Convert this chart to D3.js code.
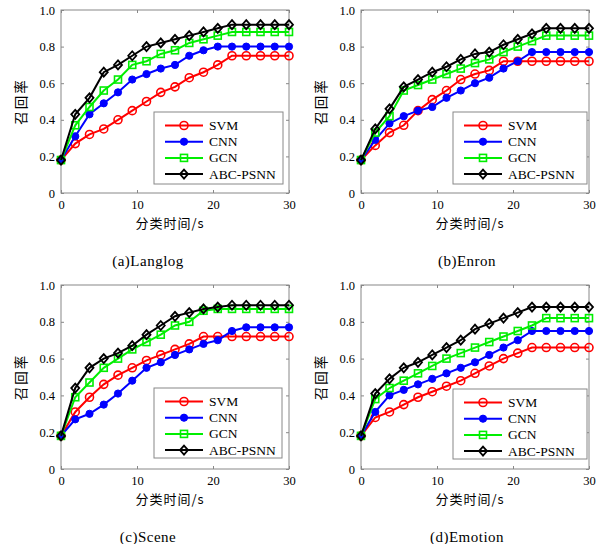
<!DOCTYPE html>
<html><head><meta charset="utf-8">
<script src="https://cdn.jsdelivr.net/npm/d3@7"></script>
<style>body{margin:0;background:#fff}svg{display:block}</style>
</head><body>
<svg id="c" width="603" height="544"></svg>
<script>
const times = [0,1.875,3.75,5.625,7.5,9.375,11.25,13.125,15,16.875,18.75,20.625,22.5,24.375,26.25,28.125,30];
const seriesNames = ["SVM","CNN","GCN","ABC-PSNN"];
const xTicks = [0,10,20,30];
const yTicks = [0,0.2,0.4,0.6,0.8,1.0];
const yTickLabels = ["0","0.2","0.4","0.6","0.8","1.0"];
const captions = ["(a)Langlog","(b)Enron","(c)Scene","(d)Emotion"];

const svmA = [0.18,0.27,0.32,0.35,0.40,0.45,0.50,0.55,0.58,0.63,0.66,0.70,0.75,0.75,0.75,0.75,0.75];
const cnnA = [0.18,0.31,0.43,0.49,0.55,0.62,0.65,0.68,0.70,0.75,0.78,0.80,0.80,0.80,0.80,0.80,0.80];
const gcnA = [0.18,0.37,0.47,0.56,0.62,0.70,0.72,0.76,0.78,0.82,0.84,0.86,0.88,0.88,0.88,0.88,0.88];
const abcA = [0.18,0.43,0.52,0.66,0.70,0.75,0.80,0.82,0.84,0.86,0.88,0.90,0.92,0.92,0.92,0.92,0.92];

const svmB = [0.18,0.26,0.33,0.37,0.45,0.51,0.56,0.62,0.65,0.67,0.72,0.72,0.72,0.72,0.72,0.72,0.72];
const cnnB = [0.18,0.29,0.38,0.42,0.45,0.47,0.52,0.56,0.60,0.63,0.68,0.72,0.77,0.77,0.77,0.77,0.77];
const gcnB = [0.18,0.33,0.42,0.56,0.59,0.62,0.65,0.68,0.71,0.73,0.77,0.80,0.83,0.86,0.86,0.86,0.86];
const abcB = [0.18,0.35,0.46,0.58,0.62,0.66,0.69,0.73,0.76,0.77,0.81,0.84,0.87,0.90,0.90,0.90,0.90];

const svmC = [0.18,0.31,0.39,0.46,0.51,0.55,0.59,0.62,0.65,0.68,0.72,0.72,0.72,0.72,0.72,0.72,0.72];
const cnnC = [0.18,0.27,0.30,0.35,0.41,0.48,0.55,0.58,0.62,0.65,0.68,0.70,0.75,0.77,0.77,0.77,0.77];
const gcnC = [0.18,0.39,0.47,0.55,0.60,0.65,0.69,0.73,0.78,0.80,0.86,0.87,0.87,0.87,0.87,0.87,0.87];
const abcC = [0.18,0.44,0.55,0.60,0.63,0.67,0.73,0.78,0.83,0.85,0.87,0.88,0.89,0.89,0.89,0.89,0.89];

const svmD = [0.18,0.28,0.31,0.35,0.39,0.42,0.45,0.48,0.52,0.56,0.60,0.63,0.66,0.66,0.66,0.66,0.66];
const cnnD = [0.18,0.31,0.40,0.43,0.46,0.49,0.52,0.55,0.58,0.62,0.66,0.70,0.75,0.75,0.75,0.75,0.75];
const gcnD = [0.18,0.38,0.44,0.48,0.52,0.56,0.60,0.63,0.66,0.69,0.72,0.75,0.78,0.82,0.82,0.82,0.82];
const abcD = [0.18,0.41,0.49,0.55,0.58,0.62,0.66,0.70,0.76,0.79,0.82,0.85,0.88,0.88,0.88,0.88,0.88];

const panelData = [[svmA,cnnA,gcnA,abcA],[svmB,cnnB,gcnB,abcB],[svmC,cnnC,gcnC,abcC],[svmD,cnnD,gcnD,abcD]];

// layout
const frames = [
  {l:61,r:289,t:10,b:193, lg:{x:154,y:112,w:129,h:72}, cap:{x:148,y:261}},
  {l:361,r:589,t:10,b:193, lg:{x:453,y:112,w:134,h:72}, cap:{x:467,y:261}},
  {l:61,r:289,t:285,b:469, lg:{x:154,y:388,w:128,h:70}, cap:{x:148,y:537}},
  {l:361,r:589,t:285,b:469, lg:{x:453,y:389,w:134,h:70}, cap:{x:467,y:537}}
];
const colors = ["#ff0000","#0000ff","#00ee00","#000000"];
const svg = d3.select("#c");
const serif = "'Liberation Serif','Times New Roman',serif";
const grey = "#888";

function marker(g, k, cx, cy){
  const c = colors[k];
  if(k===0) g.append("circle").attr("cx",cx).attr("cy",cy).attr("r",4).attr("fill","none").attr("stroke",c).attr("stroke-width",1.6);
  else if(k===1) g.append("circle").attr("cx",cx).attr("cy",cy).attr("r",3.6).attr("fill",c).attr("stroke",c).attr("stroke-width",1);
  else if(k===2) g.append("rect").attr("x",cx-3.5).attr("y",cy-3.5).attr("width",7).attr("height",7).attr("fill","none").attr("stroke",c).attr("stroke-width",1.6);
  else g.append("path").attr("d",`M${cx},${cy-4.5}L${cx+4},${cy}L${cx},${cy+4.5}L${cx-4},${cy}Z`).attr("fill","none").attr("stroke",c).attr("stroke-width",1.8);
}

frames.forEach((f,i)=>{
  const x = d3.scaleLinear().domain([0,30]).range([f.l,f.r]);
  const y = d3.scaleLinear().domain([0,1]).range([f.b,f.t]);
  const g = svg.append("g");
  // frame
  g.append("rect").attr("x",f.l).attr("y",f.t).attr("width",f.r-f.l).attr("height",f.b-f.t)
    .attr("fill","none").attr("stroke",grey).attr("stroke-width",1);
  // axes via d3
  const ax = g.append("g").attr("transform",`translate(0,${f.b})`)
    .call(d3.axisBottom(x).tickValues(xTicks).tickSize(-3).tickPadding(7).tickFormat(d3.format("d")));
  const ay = g.append("g").attr("transform",`translate(${f.l},0)`)
    .call(d3.axisLeft(y).tickValues(yTicks).tickSize(-3).tickPadding(6).tickFormat((d,j)=>yTickLabels[j]));
  const axT = g.append("g").attr("transform",`translate(0,${f.t})`)
    .call(d3.axisTop(x).tickValues(xTicks).tickSize(-3).tickFormat(""));
  const ayR = g.append("g").attr("transform",`translate(${f.r},0)`)
    .call(d3.axisRight(y).tickValues(yTicks).tickSize(-3).tickFormat(""));
  [ax,ay,axT,ayR].forEach(a=>{
    a.select(".domain").remove();
    a.selectAll("line").attr("stroke",grey);
    a.selectAll("text").attr("font-family",serif).attr("font-size",12.5).attr("fill","#000");
  });
  // titles
  g.append("text").attr("x",(f.l+f.r)/2-5).attr("y",f.b+35).attr("text-anchor","middle")
    .attr("font-family","'Noto Sans CJK SC',sans-serif").attr("font-size",13).attr("letter-spacing",1).text("分类时间/s");
  g.append("text").attr("transform",`translate(${f.l-35},${(f.t+f.b)/2}) rotate(-90)`).attr("text-anchor","middle")
    .attr("font-family","'Noto Sans CJK SC',sans-serif").attr("font-size",13.5).attr("letter-spacing",2).text("召回率");
  // lines
  const line = d3.line().x((d,j)=>x(times[j])).y(d=>y(d));
  panelData[i].forEach((s,k)=>{
    g.append("path").attr("d",line(s)).attr("fill","none").attr("stroke",colors[k]).attr("stroke-width",2);
    s.forEach((v,j)=>marker(g,k,x(times[j]),y(v)));
  });
  // legend
  const lg = g.append("g");
  lg.append("rect").attr("x",f.lg.x).attr("y",f.lg.y).attr("width",f.lg.w).attr("height",f.lg.h)
    .attr("fill","#fff").attr("stroke",grey).attr("stroke-width",1);
  seriesNames.forEach((n,k)=>{
    const yy = f.lg.y + 13.5 + k*16.2;
    lg.append("line").attr("x1",f.lg.x+11).attr("x2",f.lg.x+49).attr("y1",yy).attr("y2",yy)
      .attr("stroke",colors[k]).attr("stroke-width",2);
    marker(lg,k,f.lg.x+30,yy);
    lg.append("text").attr("x",f.lg.x+55).attr("y",yy+4.5).attr("font-family",serif).attr("font-size",13.5).text(n);
  });
  // caption
  g.append("text").attr("x",f.cap.x).attr("y",f.cap.y+5).attr("text-anchor","middle")
    .attr("font-family",serif).attr("font-size",15).attr("letter-spacing",0.5).text(captions[i]);
});
</script>
</body></html>
